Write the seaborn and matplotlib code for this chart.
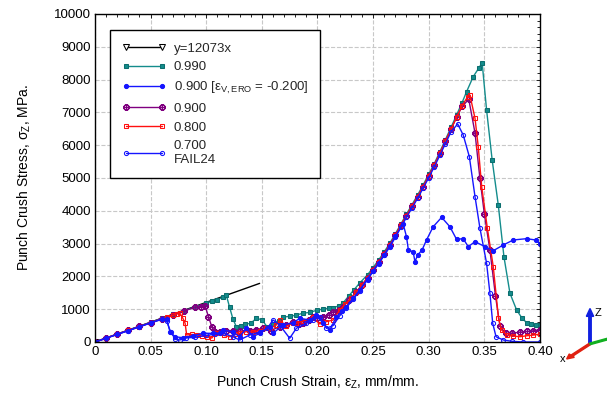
import numpy as np
import pandas as pd
import seaborn as sns
import matplotlib.pyplot as plt
from matplotlib.ticker import MultipleLocator, FuncFormatter

# Reference line y = 12073x
ref_x = [0.0, 0.148]
ref_y = [0, 1787]

# 0.990 (teal)
teal_x = [0.0, 0.01, 0.02, 0.03, 0.04, 0.05, 0.06, 0.07, 0.08, 0.09, 0.10, 0.105, 0.11, 0.115, 0.118,
          0.121, 0.124, 0.127, 0.131, 0.135, 0.140, 0.145, 0.150, 0.155, 0.160, 0.165, 0.169, 0.175,
          0.181, 0.187, 0.193, 0.200, 0.205, 0.210, 0.214, 0.219, 0.223, 0.228, 0.233, 0.238,
          0.245, 0.250, 0.255, 0.260, 0.265, 0.270, 0.275, 0.280, 0.285, 0.290, 0.295, 0.300, 0.305,
          0.310, 0.315, 0.320, 0.325, 0.330, 0.334, 0.340, 0.345, 0.348, 0.352, 0.357, 0.3625, 0.3676,
          0.373, 0.379, 0.384, 0.388, 0.392, 0.396, 0.400]
teal_y = [0, 120, 240, 360, 480, 600, 720, 840, 950, 1070, 1180, 1240, 1290, 1370, 1430,
          1060, 700, 470, 500, 540, 570, 720, 680, 450, 560, 650, 760, 780,
          820, 880, 900, 975, 1000, 1030, 1040, 1100, 1190, 1400, 1600, 1800,
          2050, 2270, 2500, 2750, 3010, 3300, 3600, 3900, 4190, 4480, 4790, 5110, 5440,
          5800, 6170, 6540, 6920, 7300, 7630, 8090, 8350, 8515, 7073, 5550, 4180, 2600,
          1485, 975, 720, 590, 540, 520, 520]

# 0.900 [eps_V,ERO = -0.200] (blue, filled circles)
blue_a_x = [0.0, 0.01, 0.02, 0.03, 0.04, 0.05, 0.06, 0.0644, 0.0674, 0.072, 0.079, 0.088, 0.097, 0.106,
            0.112, 0.115, 0.124, 0.130, 0.136, 0.142, 0.148, 0.157, 0.160, 0.169, 0.178, 0.184, 0.193,
            0.199, 0.205, 0.211, 0.217, 0.222, 0.226, 0.232, 0.238, 0.245, 0.250, 0.255, 0.260, 0.265,
            0.270, 0.277, 0.280, 0.2817, 0.286, 0.2876, 0.290, 0.294, 0.298, 0.304, 0.3116, 0.319,
            0.325, 0.331, 0.3355, 0.3416, 0.3506, 0.358, 0.367, 0.376, 0.388, 0.396, 0.400]
blue_a_y = [0, 115, 235, 350, 470, 585, 700, 700, 314, 160, 130, 190, 265, 265,
            265, 366, 310, 160, 417, 160, 265, 466, 265, 518, 580, 722, 670,
            823, 570, 366, 770, 950, 1076, 1330, 1585, 1930, 2170, 2410, 2660, 2930,
            3220, 3600, 3210, 2805, 2750, 2448, 2650, 2805, 3110, 3515, 3800, 3515,
            3130, 3150, 2905, 3060, 2905, 2783, 2957, 3110, 3150, 3110, 3000]

# 0.900 (purple)
purple_x = [0.0, 0.01, 0.02, 0.03, 0.04, 0.05, 0.06, 0.07, 0.08, 0.09, 0.095, 0.099, 0.102, 0.105,
            0.108, 0.112, 0.118, 0.124, 0.130, 0.139, 0.145, 0.151, 0.158, 0.166, 0.172, 0.178, 0.183,
            0.187, 0.192, 0.196, 0.200, 0.205, 0.210, 0.214, 0.219, 0.223, 0.228, 0.235, 0.240, 0.245,
            0.250, 0.255, 0.260, 0.265, 0.270, 0.275, 0.280, 0.285, 0.290, 0.295, 0.300, 0.305, 0.310,
            0.315, 0.320, 0.325, 0.330, 0.336, 0.3416, 0.346, 0.350, 0.355, 0.360, 0.364, 0.369, 0.375,
            0.382, 0.388, 0.394, 0.400]
purple_y = [0, 120, 240, 355, 475, 590, 710, 830, 945, 1060, 1080, 1100, 770, 466,
            310, 300, 330, 350, 330, 350, 380, 417, 350, 466, 520, 620, 560,
            570, 680, 770, 720, 770, 820, 925, 980, 1080, 1270, 1530, 1740, 1960,
            2200, 2440, 2690, 2960, 3250, 3560, 3850, 4140, 4430, 4740, 5060, 5390, 5750,
            6120, 6480, 6850, 7180, 7400, 6370, 4990, 3900, 2800, 1400, 500, 260, 270,
            300, 320, 340, 380]

# 0.800 (red)
red_x = [0.0, 0.01, 0.02, 0.03, 0.04, 0.05, 0.06, 0.065, 0.07, 0.0734, 0.0764, 0.079, 0.081, 0.0824,
         0.087, 0.0914, 0.096, 0.1004, 0.105, 0.108, 0.112, 0.116, 0.121, 0.126, 0.130, 0.136, 0.142,
         0.148, 0.154, 0.157, 0.163, 0.166, 0.172, 0.178, 0.181, 0.187, 0.196, 0.202, 0.208, 0.214,
         0.220, 0.225, 0.230, 0.235, 0.240, 0.245, 0.250, 0.255, 0.260, 0.265, 0.270, 0.275, 0.280,
         0.285, 0.290, 0.295, 0.300, 0.305, 0.310, 0.315, 0.320, 0.325, 0.330, 0.335, 0.337, 0.3416,
         0.3445, 0.3476, 0.3527, 0.358, 0.3627, 0.3655, 0.370, 0.376, 0.382, 0.388, 0.394, 0.400]
red_y = [0, 120, 240, 355, 470, 590, 700, 760, 810, 850, 875, 720, 570, 213,
         230, 213, 180, 162, 120, 260, 265, 200, 162, 230, 265, 314, 300,
         350, 417, 417, 518, 670, 480, 580, 570, 640, 750, 550, 620, 670,
         975, 1150, 1330, 1530, 1740, 1960, 2200, 2440, 2690, 2960, 3250, 3560, 3850,
         4140, 4430, 4740, 5060, 5390, 5750, 6120, 6480, 6850, 7200, 7480, 7530, 6820,
         5955, 4735, 3466, 2296, 722, 366, 210, 180, 160, 190, 210, 240]

# 0.700 FAIL24 (blue, open circles)
blue_b_x = [0.0, 0.01, 0.02, 0.03, 0.04, 0.05, 0.06, 0.0644, 0.068, 0.072, 0.076, 0.082, 0.090, 0.100,
            0.108, 0.116, 0.124, 0.130, 0.139, 0.148, 0.155, 0.160, 0.166, 0.175, 0.181, 0.190, 0.196,
            0.202, 0.208, 0.214, 0.220, 0.226, 0.232, 0.238, 0.245, 0.250, 0.255, 0.260, 0.265, 0.270,
            0.275, 0.280, 0.285, 0.290, 0.295, 0.300, 0.305, 0.310, 0.315, 0.320, 0.326, 0.331, 0.3365,
            0.3416, 0.346, 0.352, 0.355, 0.3575, 0.3605, 0.367, 0.375, 0.385, 0.400]
blue_b_y = [0, 115, 230, 345, 460, 580, 690, 650, 300, 100, 60, 120, 150, 200,
            240, 260, 160, 60, 213, 300, 420, 670, 518, 113, 417, 570, 670,
            770, 417, 500, 800, 1050, 1300, 1560, 1900, 2150, 2390, 2640, 2900, 3190,
            3500, 3800, 4090, 4380, 4690, 5010, 5340, 5690, 6050, 6400, 6650, 6310, 5650,
            4430, 3475, 2400, 1485, 570, 160, 60, 20, 0, 0]

series = [
    ('y=12073x', ref_x, ref_y, dict(color='black', marker='v', mfc='white', mec='black', ms=5, markevery=[0])),
    ('0.990', teal_x, teal_y, dict(color='#148c8c', marker='s', mfc='#148c8c', mec='#0c6e6e', ms=3.5)),
    ('0.900 [ε$_{\\mathregular{V,ERO}}$ = -0.200]', blue_a_x, blue_a_y,
     dict(color='#1515ff', marker='o', mfc='#1515ff', mec='#1515ff', ms=3)),
    ('0.900', purple_x, purple_y, dict(color='#800080', marker='$\\oplus$', mfc='#800080', mec='#800080', ms=4)),
    ('0.800', red_x, red_y, dict(color='#ff1010', marker='s', mfc='none', mec='#ff1010', ms=3.5)),
    ('0.700\nFAIL24', blue_b_x, blue_b_y, dict(color='#1515ff', marker='o', mfc='none', mec='#1515ff', ms=3)),
]

sns.set_theme(style='whitegrid')
plt.rcParams['font.family'] = ['Liberation Sans', 'DejaVu Sans']
plt.rcParams['mathtext.fontset'] = 'custom'
plt.rcParams['mathtext.rm'] = 'Liberation Sans'
plt.rcParams['mathtext.it'] = 'Liberation Sans:italic'

fig = plt.figure(figsize=(6.07, 3.93), dpi=100)
ax = fig.add_axes([0.1565, 0.1298, 0.7331, 0.8346])

draw_order = [0, 1, 3, 4, 2, 5]
for i in draw_order:
    label, xs, ys, style = series[i]
    df = pd.DataFrame({'strain': xs, 'stress': ys})
    sns.lineplot(data=df, x='strain', y='stress', sort=False, estimator=None, ax=ax, label=label,
                 lw=1.0, **style)

ax.set_xlim(0, 0.40)
ax.set_ylim(0, 10000)
ax.xaxis.set_major_locator(MultipleLocator(0.05))
ax.xaxis.set_minor_locator(MultipleLocator(0.01))
ax.yaxis.set_major_locator(MultipleLocator(1000))
ax.yaxis.set_minor_locator(MultipleLocator(200))
ax.xaxis.set_major_formatter(FuncFormatter(lambda v, p: '0' if abs(v) < 1e-9 else f'{v:.2f}'))
ax.tick_params(which='both', direction='in', top=True, right=True, labelsize=9.5, colors='black',
               length=3, width=0.6, pad=3)
ax.tick_params(which='minor', length=2)
ax.grid(True, which='major', linestyle='--', color='#c8c8c8', lw=0.8)
for s in ax.spines.values():
    s.set_color('black')
    s.set_linewidth(1.0)

ax.set_xlabel('Punch Crush Strain, ε$_{\\mathregular{Z}}$, mm/mm.', fontsize=10, color='black', labelpad=11)
ax.set_ylabel('Punch Crush Stress, σ$_{\\mathregular{Z}}$, MPa.', fontsize=10, color='black', labelpad=15)

handles, labels = ax.get_legend_handles_labels()
order = [labels.index(s[0]) for s in series]
leg = ax.legend([handles[k] for k in order], [labels[k] for k in order],
                loc='upper left', bbox_to_anchor=(0.02, 0.97), numpoints=2, handlelength=3.3,
                handletextpad=0.6, fontsize=9.5, fancybox=False, framealpha=1, edgecolor='black',
                borderpad=0.9, labelspacing=0.5)
leg.get_frame().set_linewidth(1.0)
for h in leg.legend_handles:
    h.set_markevery(None)

# small coordinate triad in the lower right corner
ox, oy = 0.972, 0.125
fig.patches.append(plt.matplotlib.patches.FancyArrow(ox, oy, 0, 0.07, width=0.004, head_width=0.012,
                   head_length=0.02, color='#1020e0', transform=fig.transFigure))
fig.patches.append(plt.matplotlib.patches.FancyArrow(ox, oy, -0.03, -0.03, width=0.004, head_width=0.012,
                   head_length=0.012, color='#e02010', transform=fig.transFigure))
fig.patches.append(plt.matplotlib.patches.FancyArrow(ox, oy, 0.028, 0.012, width=0.004, head_width=0.0,
                   head_length=0.0, color='#10b020', transform=fig.transFigure))
fig.text(ox + 0.008, oy + 0.07, 'Z', fontsize=8, color='black')
fig.text(ox - 0.05, oy - 0.045, 'x', fontsize=8, color='black')

fig.savefig('out.png', dpi=100)
